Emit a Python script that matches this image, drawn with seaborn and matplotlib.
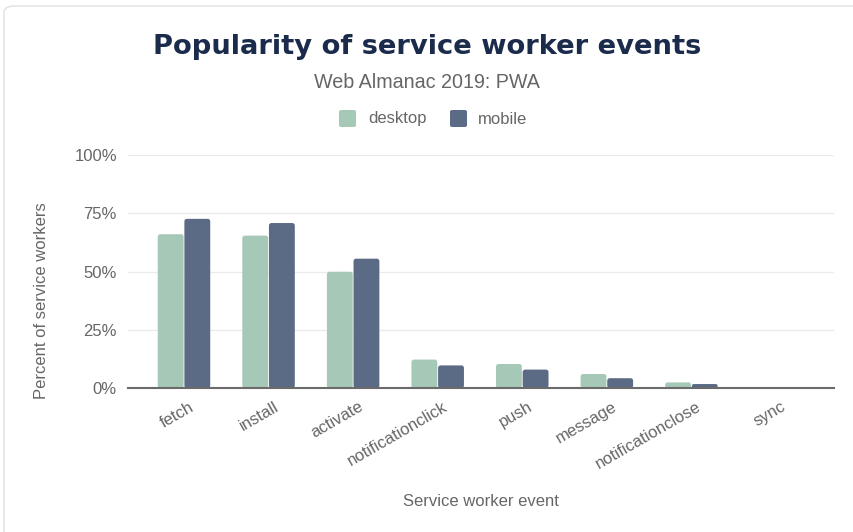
import matplotlib
matplotlib.use("Agg")
import matplotlib.pyplot as plt
from matplotlib.patches import FancyBboxPatch
import seaborn as sns
import pandas as pd

events = ["fetch", "install", "activate", "notificationclick", "push",
          "message", "notificationclose", "sync"]
desktop = [66.0, 65.4, 49.9, 12.2, 10.3, 6.0, 2.4, 0.3]
mobile = [72.6, 70.8, 55.5, 9.7, 7.9, 4.2, 1.7, 0.2]
clients = ["desktop", "mobile"]
yticks = [0, 25, 50, 75, 100]
ytick_labels = ["0%", "25%", "50%", "75%", "100%"]

df = pd.DataFrame({
    "event": events * 2,
    "client": ["desktop"] * len(events) + ["mobile"] * len(events),
    "value": desktop + mobile,
})

sns.set_theme(style="white")
plt.rcParams["font.family"] = ["Liberation Sans", "DejaVu Sans"]

W, H = 854, 532
fig = plt.figure(figsize=(W / 100, H / 100), dpi=100)
ax_left, ax_right, ax_top, ax_bottom = 128, 834, 155, 388
ax = fig.add_axes([ax_left / W, 1 - ax_bottom / H,
                   (ax_right - ax_left) / W, (ax_bottom - ax_top) / H])

palette = {"desktop": "#a6c8b7", "mobile": "#5b6a85"}
sns.barplot(data=df, x="event", y="value", hue="client", order=events,
            hue_order=clients, palette=palette, width=0.63, gap=0.03,
            saturation=1, ax=ax, legend=False)

ax.set_xlim(-0.662, 7.686)
ax.set_ylim(0, 100)

# round the bar tops slightly
px_x = (ax.get_xlim()[1] - ax.get_xlim()[0]) / (ax_right - ax_left)
px_y = 100 / (ax_bottom - ax_top)
aspect = px_y / px_x
for p in list(ax.patches):
    x0, y0 = p.get_x(), p.get_y()
    w, h = p.get_width(), p.get_height()
    fc = p.get_facecolor()
    p.remove()
    r = min(2.5 * px_x, (h / px_y) * px_x / 2)
    if h < 2 * px_y:
        ax.add_patch(plt.Rectangle((x0, y0), w, max(h, 0.6 * px_y), facecolor=fc,
                                   edgecolor="none", zorder=2))
        continue
    ax.add_patch(FancyBboxPatch((x0, y0), w, h,
                                boxstyle=f"round,pad=0,rounding_size={r}",
                                mutation_aspect=aspect, facecolor=fc,
                                edgecolor="none", zorder=2))

text_color = "#666666"
ax.set_yticks(yticks)
ax.set_yticklabels(ytick_labels, fontsize=12, color=text_color)
# rotated labels: anchor their right end slightly right of the category centre
label_shift = 5 * px_x
ax.set_xticks([i + label_shift for i in range(len(events))])
ax.set_xticklabels(events, rotation=30, ha="right", rotation_mode="anchor",
                   fontsize=12, color=text_color)
ax.tick_params(axis="both", length=0, pad=8)
ax.grid(axis="y", color="#ebebeb", linewidth=1)
ax.set_axisbelow(True)
for s in ["top", "right", "left"]:
    ax.spines[s].set_visible(False)
ax.spines["bottom"].set_color("#6b6b6b")
ax.spines["bottom"].set_linewidth(1.5)
ax.set_xlabel("Service worker event", fontsize=12, color=text_color, labelpad=16)
ax.set_ylabel("Percent of service workers", fontsize=12, color=text_color)
ax.yaxis.set_label_coords(49 / W, 1 - 301 / H, transform=fig.transFigure)

fig.text(0.5, 1 - 47 / H, "Popularity of service worker events", ha="center",
         va="center", fontsize=19.7, fontweight="bold", color="#1a2b4b",
         family=["DejaVu Sans"])
fig.text(0.5, 1 - 83 / H, "Web Almanac 2019: PWA", ha="center", va="center",
         fontsize=14.2, color=text_color)

# legend
lx = [339, 450]
tx = [368, 478]
for name, x, t in zip(clients, lx, tx):
    fig.patches.append(FancyBboxPatch((x / W, 1 - 127 / H), 17 / W, 17 / H,
                                      boxstyle="round,pad=0,rounding_size=0.003",
                                      transform=fig.transFigure,
                                      facecolor=palette[name], edgecolor="none"))
    fig.text(t / W, 1 - 119 / H, name, ha="left", va="center",
             fontsize=12, color=text_color)

# card border
fig.patches.append(FancyBboxPatch((4 / W, -0.05), 1.2, 1 - 6 / H + 0.05,
                                  boxstyle="round,pad=0,rounding_size=0.012",
                                  transform=fig.transFigure, facecolor="none",
                                  edgecolor="#e0e0e0", linewidth=1))

fig.savefig("out.png", dpi=100)
